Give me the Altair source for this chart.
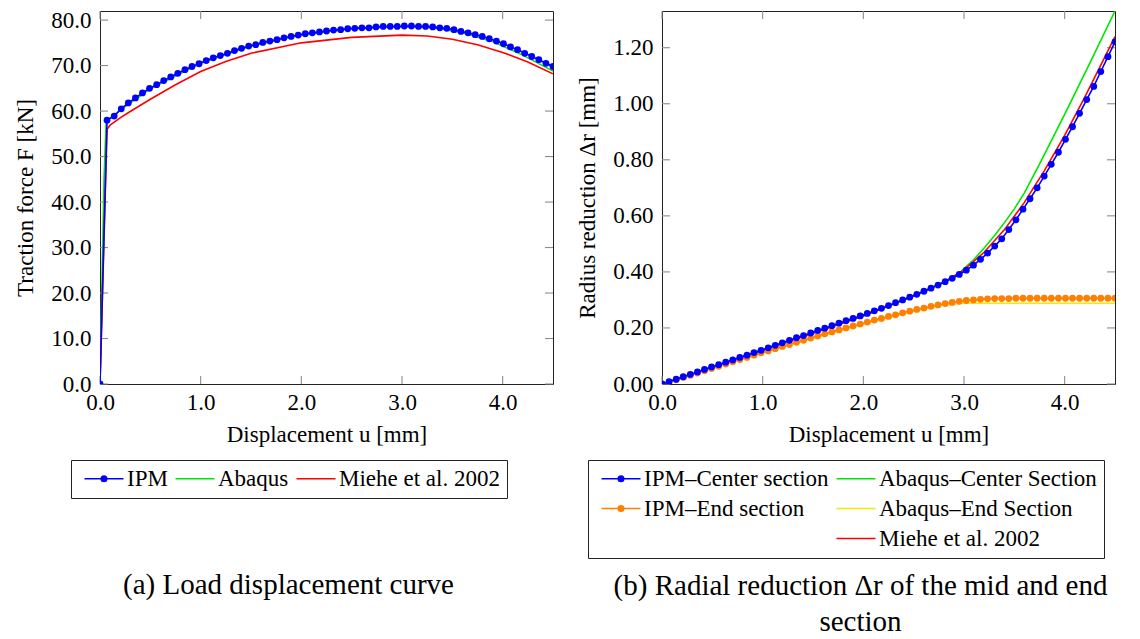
import altair as alt
import pandas as pd

# ---------------- data ----------------
u_grid = [0.000, 0.070, 0.141, 0.211, 0.281, 0.352, 0.422, 0.492, 0.563, 0.633,
          0.703, 0.773, 0.844, 0.914, 0.984, 1.055, 1.125, 1.195, 1.266, 1.336,
          1.406, 1.477, 1.547, 1.617, 1.688, 1.758, 1.828, 1.898, 1.969, 2.039,
          2.109, 2.180, 2.250, 2.320, 2.391, 2.461, 2.531, 2.602, 2.672, 2.742,
          2.813, 2.883, 2.953, 3.023, 3.094, 3.164, 3.234, 3.305, 3.375, 3.445,
          3.516, 3.586, 3.656, 3.727, 3.797, 3.867, 3.938, 4.008, 4.078, 4.148,
          4.219, 4.289, 4.359, 4.430, 4.500]

# (a) load-displacement
ipm_force = [0.0, 58.0, 58.9, 60.5, 61.8, 62.9, 64.0, 65.0, 65.8, 66.7,
             67.5, 68.3, 69.1, 69.8, 70.4, 71.1, 71.7, 72.2, 72.7, 73.3,
             73.8, 74.3, 74.6, 75.1, 75.4, 75.7, 76.1, 76.4, 76.7, 77.0,
             77.2, 77.4, 77.6, 77.8, 77.9, 78.1, 78.2, 78.3, 78.3, 78.5,
             78.6, 78.6, 78.6, 78.7, 78.7, 78.6, 78.6, 78.5, 78.3, 78.2,
             77.9, 77.5, 77.2, 76.8, 76.4, 75.9, 75.4, 74.8, 74.1, 73.5,
             72.7, 72.0, 71.3, 70.5, 69.8]
abaqus_u = [0.0, 0.04, 0.06, 0.07, 0.2, 0.5, 1.0, 1.5, 2.0, 2.5, 3.0, 3.3, 3.6, 3.9, 4.2, 4.5]
abaqus_force = [0.0, 45.0, 57.0, 57.9, 60.2, 64.9, 70.5, 74.3, 76.8, 78.1, 78.6, 78.4, 77.2, 75.3, 72.3, 68.8]
miehe_u = [0.0, 0.07, 0.1, 0.2, 0.3, 0.5, 0.75, 1.0, 1.25, 1.5, 2.0, 2.5, 3.0, 3.25, 3.5, 3.75, 4.0, 4.25, 4.5]
miehe_force = [0.0, 56.0, 56.9, 58.5, 59.9, 62.6, 65.8, 68.7, 70.9, 72.7, 75.0, 76.2, 76.7, 76.5, 75.8, 74.6, 72.9, 70.8, 68.2]

# (b) radius reduction
ipm_center = [0.000, 0.008, 0.017, 0.026, 0.034, 0.043, 0.052, 0.061, 0.069, 0.078,
              0.086, 0.095, 0.103, 0.112, 0.120, 0.129, 0.138, 0.147, 0.156, 0.165,
              0.173, 0.182, 0.191, 0.199, 0.208, 0.217, 0.226, 0.234, 0.243, 0.252,
              0.261, 0.270, 0.280, 0.290, 0.300, 0.310, 0.320, 0.331, 0.342, 0.353,
              0.365, 0.377, 0.391, 0.406, 0.424, 0.445, 0.467, 0.492, 0.518, 0.551,
              0.586, 0.624, 0.661, 0.700, 0.742, 0.784, 0.827, 0.873, 0.918, 0.966,
              1.015, 1.062, 1.115, 1.168, 1.221]
ipm_end = [0.000, 0.007, 0.015, 0.023, 0.031, 0.039, 0.047, 0.055, 0.063, 0.071,
           0.079, 0.087, 0.095, 0.103, 0.111, 0.118, 0.126, 0.134, 0.141, 0.149,
           0.156, 0.164, 0.171, 0.179, 0.186, 0.193, 0.200, 0.207, 0.214, 0.221,
           0.228, 0.234, 0.241, 0.247, 0.254, 0.260, 0.266, 0.271, 0.277, 0.282,
           0.287, 0.291, 0.295, 0.298, 0.300, 0.302, 0.304, 0.305, 0.305, 0.305,
           0.306, 0.306, 0.306, 0.306, 0.306, 0.306, 0.306, 0.306, 0.306, 0.306,
           0.306, 0.306, 0.306, 0.306, 0.306]
abq_center_u = [0.0, 1.0, 2.0, 2.5, 2.8, 2.95, 3.1, 3.2, 3.3, 3.4, 3.5, 3.6, 3.75, 4.0, 4.25, 4.5]
abq_center = [0.0, 0.121, 0.243, 0.314, 0.364, 0.395, 0.445, 0.485, 0.528, 0.575, 0.625, 0.682, 0.785, 0.962, 1.145, 1.331]
abq_end_u = [0.0, 1.0, 2.0, 2.5, 2.8, 3.0, 3.2, 3.6, 4.0, 4.5]
abq_end = [0.0, 0.112, 0.213, 0.260, 0.282, 0.288, 0.288, 0.288, 0.288, 0.288]
miehe_r_u = [0.0, 1.0, 2.0, 2.5, 2.8, 3.0, 3.2, 3.4, 3.6, 3.8, 4.0, 4.2, 4.4, 4.5]
miehe_r = [0.0, 0.120, 0.243, 0.314, 0.363, 0.407, 0.470, 0.550, 0.648, 0.762, 0.887, 1.024, 1.167, 1.240]

x_ticks = [0, 1, 2, 3, 4]
y_ticks_a = [0, 10, 20, 30, 40, 50, 60, 70, 80]
y_ticks_b = [0, 0.2, 0.4, 0.6, 0.8, 1.0, 1.2]

legend_a = ["IPM", "Abaqus", "Miehe et al. 2002"]
legend_b = ["IPM\u2013Center section", "Abaqus\u2013Center Section",
            "IPM\u2013End section", "Abaqus\u2013End Section",
            " ", "Miehe et al. 2002"]

BLUE, GREEN, RED, ORANGE, YELLOW = "#0000ff", "#00e600", "#ff0000", "#ff8000", "#ffe600"

# ---------------- styling ----------------
FONT = "Liberation Serif"
W, H = 453, 373
TICK = 8
LINE_SYM = "M-1,0L6.8,0"
DOT_SYM = "M-1,0L6.8,0M3.45,0A0.55,0.55,0,1,1,2.35,0A0.55,0.55,0,1,1,3.45,0Z"
NO_SYM = "M0,0L0,0"


def panel(lines, dotted, ytitle, ydomain, yticks, yfmt, leg_field,
          leg_names, leg_colors, leg_shapes, leg_cols, leg_x,
          caption, cap_dx, cap_offset):
    xscale = alt.Scale(domain=[0, 4.5], nice=False, zero=False)
    yscale = alt.Scale(domain=ydomain, nice=False, zero=False)
    xaxis = alt.Axis(values=x_ticks, format=".1f", title="Displacement u [mm]",
                     grid=False, ticks=False, domain=False, labelFlush=False,
                     labelOverlap=False, labelFont=FONT, labelFontSize=23,
                     labelColor="black", labelPadding=7, titleFont=FONT,
                     titleFontSize=23, titleFontWeight="normal",
                     titleColor="black", titlePadding=9)
    yaxis = alt.Axis(values=yticks, format=yfmt, title=ytitle,
                     grid=False, ticks=False, domain=False, labelFlush=False,
                     labelOverlap=False, labelFont=FONT, labelFontSize=23,
                     labelColor="black", labelPadding=9, titleFont=FONT,
                     titleFontSize=23, titleFontWeight="normal",
                     titleColor="black", titlePadding=13)
    X = alt.X("u:Q", scale=xscale, axis=xaxis)
    Y = alt.Y("v:Q", scale=yscale, axis=yaxis)

    layers = []
    xt = pd.DataFrame({"u": x_ticks})
    yt = pd.DataFrame({"v": yticks})
    tick = dict(color="#8c8c8c", strokeWidth=1.1)
    layers.append(alt.Chart(xt).mark_rule(**tick).encode(x=X, y=alt.value(H), y2=alt.value(H - TICK)))
    layers.append(alt.Chart(xt).mark_rule(**tick).encode(x=X, y=alt.value(0), y2=alt.value(TICK)))
    layers.append(alt.Chart(yt).mark_rule(**tick).encode(y=Y, x=alt.value(0), x2=alt.value(TICK)))
    layers.append(alt.Chart(yt).mark_rule(**tick).encode(y=Y, x=alt.value(W), x2=alt.value(W - TICK)))

    for us, vs, col in lines:
        df = pd.DataFrame({"u": us, "v": vs})
        layers.append(alt.Chart(df).mark_line(color=col, strokeWidth=1.6, clip=True).encode(x=X, y=Y))
    for us, vs, col in dotted:
        df = pd.DataFrame({"u": us, "v": vs})
        layers.append(alt.Chart(df).mark_line(color=col, strokeWidth=1.6, clip=True).encode(x=X, y=Y))
        layers.append(alt.Chart(df).mark_circle(color=col, size=46, opacity=1, clip=True).encode(x=X, y=Y))

    legend = alt.Legend(orient="none", legendX=leg_x, legendY=449, title=None,
                        direction="horizontal", columns=leg_cols,
                        labelFont=FONT, labelFontSize=23, labelColor="black",
                        labelLimit=0, labelOffset=26, symbolSize=100,
                        symbolStrokeWidth=1.6, symbolOpacity=1, symbolOffset=0,
                        strokeColor="#222", fillColor="white", padding=7,
                        columnPadding=1, rowPadding=6)
    leg_df = pd.DataFrame({leg_field: leg_names})
    fld = leg_field + ":N"
    layers.append(
        alt.Chart(leg_df).mark_point(opacity=1, size=100, strokeWidth=1.6)
        .encode(
            stroke=alt.Stroke(fld, scale=alt.Scale(domain=leg_names, range=leg_colors), legend=legend),
            fill=alt.Fill(fld, scale=alt.Scale(domain=leg_names, range=leg_colors), legend=legend),
            shape=alt.Shape(fld, scale=alt.Scale(domain=leg_names, range=leg_shapes), legend=legend),
        )
        .transform_filter("false")
    )

    title = alt.Title(caption, orient="bottom", anchor="middle", frame="group",
                      dx=cap_dx, offset=cap_offset, font=FONT, fontSize=29,
                      fontWeight="normal", color="black", lineHeight=36)
    return alt.layer(*layers).properties(width=W, height=H, title=title)


left = panel(
    lines=[(abaqus_u, abaqus_force, GREEN), (miehe_u, miehe_force, RED)],
    dotted=[(u_grid, ipm_force, BLUE)],
    ytitle="Traction force F [kN]", ydomain=[0, 82], yticks=y_ticks_a, yfmt=".1f",
    leg_field="series_a", leg_names=legend_a, leg_colors=[BLUE, GREEN, RED],
    leg_shapes=[DOT_SYM, LINE_SYM, LINE_SYM], leg_cols=3, leg_x=-29,
    caption="(a) Load displacement curve", cap_dx=-38, cap_offset=72,
)

right = panel(
    lines=[(abq_center_u, abq_center, GREEN), (abq_end_u, abq_end, YELLOW),
           (miehe_r_u, miehe_r, RED)],
    dotted=[(u_grid, ipm_end, ORANGE), (u_grid, ipm_center, BLUE)],
    ytitle="Radius reduction \u0394r [mm]", ydomain=[0, 1.331], yticks=y_ticks_b, yfmt=".2f",
    leg_field="series_b", leg_names=legend_b,
    leg_colors=[BLUE, GREEN, ORANGE, YELLOW, "transparent", RED],
    leg_shapes=[DOT_SYM, LINE_SYM, DOT_SYM, LINE_SYM, NO_SYM, LINE_SYM],
    leg_cols=2, leg_x=-74,
    caption=["(b) Radial reduction \u0394r of the mid and end", "section"],
    cap_dx=-28, cap_offset=13,
)

chart = (
    alt.hconcat(left, right, spacing=21)
    .resolve_scale(stroke="independent", fill="independent", shape="independent")
    .resolve_legend(stroke="independent", fill="independent", shape="independent")
    .properties(padding={"left": 6, "top": 0, "right": 0, "bottom": 0})
    .configure(font=FONT)
    .configure_view(stroke="#222", strokeWidth=1)
)

chart.save("out.html", embed_options={"renderer": "svg", "actions": False})
